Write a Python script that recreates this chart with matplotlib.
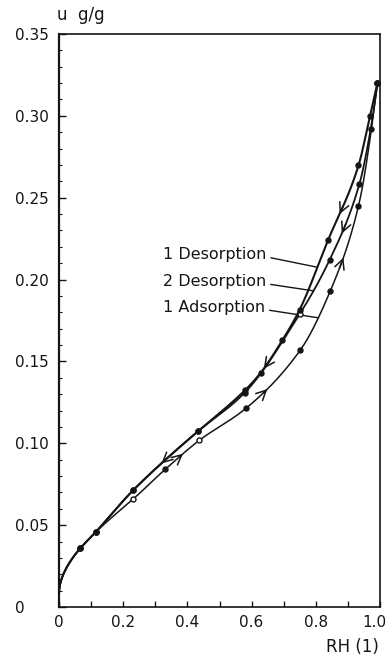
import matplotlib
matplotlib.use("Agg")
import matplotlib.pyplot as plt
import matplotlib.transforms as mtransforms
import numpy as np

plt.rcParams['font.family'] = ['DejaVu Sans']

# moisture content u (g/g) against relative humidity RH
ads_rh = [0.0, 0.066, 0.115, 0.231, 0.331, 0.437, 0.582, 0.752, 0.845, 0.933, 0.992]
ads_u = [0.008, 0.0358, 0.0459, 0.0659, 0.0841, 0.1018, 0.1213, 0.157, 0.193, 0.245, 0.320]
ads_open = [False, True, False, True, False, True, False, False, False, False, False]

des1_rh = [0.0, 0.066, 0.115, 0.231, 0.434, 0.579, 0.628, 0.696, 0.750, 0.838, 0.933, 0.969, 0.992]
des1_u = [0.008, 0.0358, 0.0459, 0.0713, 0.1075, 0.1323, 0.143, 0.163, 0.1817, 0.224, 0.2697, 0.300, 0.320]

des2_rh = [0.0, 0.066, 0.115, 0.231, 0.434, 0.579, 0.750, 0.843, 0.936, 0.971, 0.992]
des2_u = [0.008, 0.0358, 0.0459, 0.0713, 0.1075, 0.131, 0.179, 0.212, 0.2585, 0.292, 0.320]
des2_open = [False, False, False, False, False, False, True, False, False, False, False]

# where the direction arrows sit on each curve (RH)
ads_arrows = [0.386, 0.649, 0.886]
des1_arrows = [0.319, 0.638, 0.874]
des2_arrows = [0.881]

labels = ['1 Desorption', '2 Desorption', '1 Adsorption']
label_rh = [0.805, 0.793, 0.808]
label_text_pos = [(0.325, 0.2152), (0.325, 0.1988), (0.325, 0.1830)]

ink = '#151515'


def pchip(xk, yk, xs):
    xk = np.asarray(xk, float)
    yk = np.asarray(yk, float)
    h = np.diff(xk)
    d = np.diff(yk) / h
    n = len(xk)
    m = np.zeros(n)
    for k in range(1, n - 1):
        if d[k - 1] * d[k] > 0:
            w1 = 2 * h[k] + h[k - 1]
            w2 = h[k] + 2 * h[k - 1]
            m[k] = (w1 + w2) / (w1 / d[k - 1] + w2 / d[k])
    m[0] = ((2 * h[0] + h[1]) * d[0] - h[0] * d[1]) / (h[0] + h[1])
    m[-1] = ((2 * h[-1] + h[-2]) * d[-1] - h[-1] * d[-2]) / (h[-1] + h[-2])
    idx = np.clip(np.searchsorted(xk, xs) - 1, 0, n - 2)
    t = (xs - xk[idx]) / h[idx]
    h00 = 2 * t**3 - 3 * t**2 + 1
    h10 = t**3 - 2 * t**2 + t
    h01 = -2 * t**3 + 3 * t**2
    h11 = t**3 - t**2
    return (h00 * yk[idx] + h10 * h[idx] * m[idx]
            + h01 * yk[idx + 1] + h11 * h[idx] * m[idx + 1])


def smooth(rh, u):
    # interpolate in sqrt(RH) so the steep rise near RH = 0 stays smooth
    s = np.sqrt(np.asarray(rh))
    ss = np.linspace(s[0], s[-1], 400)
    return ss**2, pchip(s, u, ss)


def curve_at(rh, u, x):
    return float(pchip(np.sqrt(rh), u, np.array([np.sqrt(x)]))[0])


fig = plt.figure(figsize=(3.86, 6.60), dpi=100)
ax = fig.add_axes([59 / 386, 53 / 660, 321 / 386, 573 / 660])

for rh, u, lw in [(ads_rh, ads_u, 1.1), (des1_rh, des1_u, 1.5), (des2_rh, des2_u, 1.3)]:
    x, y = smooth(rh, u)
    ax.plot(x, y, color=ink, lw=lw, solid_capstyle='round')

# measured points
for rh, u, opn in [(ads_rh, ads_u, ads_open), (des2_rh, des2_u, des2_open)]:
    for xi, yi, o in zip(rh[1:], u[1:], opn[1:]):
        ax.plot(xi, yi, 'o', ms=3.6, mec=ink, mew=1.0,
                mfc='white' if o else ink, zorder=4)
for xi, yi in zip(des1_rh[1:], des1_u[1:]):
    ax.plot(xi, yi, 'o', ms=3.6, color=ink, zorder=4)

# direction arrows along the curves
for rh, u, xs, sign in [(ads_rh, ads_u, ads_arrows, 1),
                        (des1_rh, des1_u, des1_arrows, -1),
                        (des2_rh, des2_u, des2_arrows, -1)]:
    for xa in xs:
        x0 = xa - sign * 0.012
        ax.annotate('', xy=(xa, curve_at(rh, u, xa)),
                    xytext=(x0, curve_at(rh, u, x0)),
                    arrowprops=dict(arrowstyle='->,head_length=0.7,head_width=0.35',
                                    color=ink, lw=1.1, shrinkA=0, shrinkB=0))

# curve labels with leader lines
for text, xr, pos, (rh, u) in zip(labels, label_rh, label_text_pos,
                                  [(des1_rh, des1_u), (des2_rh, des2_u), (ads_rh, ads_u)]):
    ax.annotate(text, xy=(xr, curve_at(rh, u, xr)), xytext=pos,
                fontsize=11.5, va='center', ha='left', color=ink,
                arrowprops=dict(arrowstyle='-', color=ink, lw=1.0,
                                shrinkA=1, shrinkB=0, relpos=(1.0, 0.35)))

ax.set_xlim(0, 1.0)
ax.set_ylim(0, 0.35)
ax.set_xticks(np.arange(0, 1.01, 0.2))
ax.set_xticks(np.arange(0.1, 1.0, 0.2), minor=True)
ax.set_xticklabels(['0', '0.2', '0.4', '0.6', '0.8', '1.0'])
ax.set_yticks(np.arange(0, 0.351, 0.05))
ax.set_yticks(np.arange(0, 0.351, 0.01), minor=True)
ax.set_yticklabels(['0', '0.05', '0.10', '0.15', '0.20', '0.25', '0.30', '0.35'])

ax.tick_params(axis='both', which='both', direction='in', color=ink,
               labelcolor=ink, labelsize=11, top=False, right=False)
ax.tick_params(axis='x', which='both', length=4.5, width=1.0, pad=6)
ax.tick_params(axis='y', which='major', length=5, width=1.0, pad=31.5)
ax.tick_params(axis='y', which='minor', length=2, width=0.8)
plt.setp(ax.get_yticklabels(), ha='left')

# keep the last x label inside the figure
last = ax.get_xticklabels()[-1]
last.set_ha('right')
last.set_transform(last.get_transform()
                   + mtransforms.ScaledTranslation(6 / 100, 0, fig.dpi_scale_trans))

for side in ['left', 'bottom', 'top', 'right']:
    ax.spines[side].set_color(ink)
    ax.spines[side].set_linewidth(1.2)
ax.spines['left'].set_linewidth(1.6)

fig.text(57 / 386, 1 - 15 / 660, 'u  g/g', fontsize=12, va='center', ha='left', color=ink)
fig.text(379 / 386, 1 - 647 / 660, 'RH (1)', fontsize=12, va='center', ha='right', color=ink)

fig.savefig('out.png', dpi=100)
